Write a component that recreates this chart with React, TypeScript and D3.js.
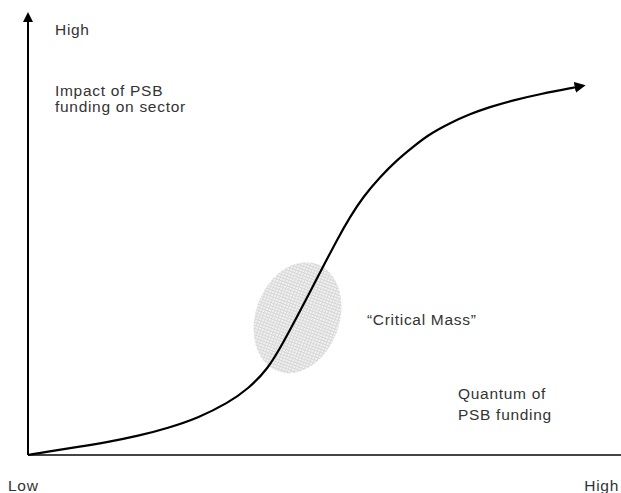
import { useEffect, useRef } from "react";
import * as d3 from "d3";

// S-curve: funding quantum (0-100) vs impact (0-100)
const fundingLevels = [0, 3.37, 8.43, 13.49, 18.55, 23.61, 28.67, 33.73, 37.1, 40.47, 43.0, 45.36, 47.72, 50.08, 52.28, 54.3, 56.49, 59.36, 62.23, 64.92, 67.45, 71.16, 74.54, 77.91, 81.28, 86.34, 92.58];
const impactLevels = [0, 0.79, 1.81, 2.93, 4.29, 6.09, 8.35, 11.74, 14.9, 19.41, 25.28, 31.15, 37.25, 43.34, 48.98, 53.72, 58.24, 62.75, 66.59, 69.53, 72.23, 74.94, 76.98, 78.56, 79.91, 81.49, 83.07];

// critical mass zone (centre and radii in data units)
const criticalCentre = [45.45, 31.0];
const criticalRadii = [7.08, 12.87];

const axisLabels = { yHigh: "High", xLow: "Low", xHigh: "High" };
const yTitle = ["Impact of PSB", "funding on sector"];
const xTitle = ["Quantum of", "PSB funding"];
const zoneLabel = "\u201CCritical Mass\u201D";

const App = () => {
  const svgRef = useRef<SVGSVGElement>(null);

  useEffect(() => {
    const width = 621,
      height = 493;
    const margin = { left: 28, right: 0, top: 12, bottom: 38 };

    const svg = d3.select(svgRef.current);
    svg.selectAll("*").remove();

    const x = d3.scaleLinear().domain([0, 100]).range([margin.left, width - margin.right]);
    const y = d3.scaleLinear().domain([0, 100]).range([height - margin.bottom, margin.top]);

    const defs = svg.append("defs");
    defs
      .append("marker")
      .attr("id", "arrow")
      .attr("viewBox", "0 0 10 10")
      .attr("refX", 2)
      .attr("refY", 5)
      .attr("markerWidth", 5)
      .attr("markerHeight", 5)
      .attr("markerUnits", "strokeWidth")
      .attr("orient", "auto")
      .append("path")
      .attr("d", "M0,0 L10,5 L0,10 Z")
      .attr("fill", "#000");

    const pat = defs
      .append("pattern")
      .attr("id", "dots")
      .attr("patternUnits", "userSpaceOnUse")
      .attr("width", 3)
      .attr("height", 3);
    pat.append("rect").attr("width", 3).attr("height", 3).attr("fill", "#f2f2f2");
    pat.append("rect").attr("width", 3).attr("height", 1).attr("fill", "#d4d4d4");
    pat.append("rect").attr("width", 1).attr("height", 3).attr("fill", "#dadada");

    // critical mass ellipse
    const cx = x(criticalCentre[0]),
      cy = y(criticalCentre[1]);
    svg
      .append("ellipse")
      .attr("cx", cx)
      .attr("cy", cy)
      .attr("rx", x(criticalRadii[0]) - x(0))
      .attr("ry", y(0) - y(criticalRadii[1]))
      .attr("transform", `rotate(20,${cx},${cy})`)
      .attr("fill", "url(#dots)");

    // axes
    svg
      .append("line")
      .attr("x1", x(0))
      .attr("x2", x(100))
      .attr("y1", y(0))
      .attr("y2", y(0))
      .attr("stroke", "#444")
      .attr("stroke-width", 2);

    svg
      .append("line")
      .attr("x1", x(0))
      .attr("x2", x(0))
      .attr("y1", y(0))
      .attr("y2", y(100) + 8)
      .attr("stroke", "#000")
      .attr("stroke-width", 2)
      .attr("marker-end", "url(#arrow)");

    const pts = fundingLevels.map((f, i) => [f, impactLevels[i]] as [number, number]);
    const line = d3
      .line<[number, number]>()
      .x((d) => x(d[0]))
      .y((d) => y(d[1]))
      .curve(d3.curveBasis);

    svg
      .append("path")
      .datum(pts)
      .attr("fill", "none")
      .attr("stroke", "#000")
      .attr("stroke-width", 2.2)
      .attr("marker-end", "url(#arrow)")
      .attr("d", line);

    const txt = (s: string, tx: number, ty: number, anchor = "start") =>
      svg
        .append("text")
        .attr("x", tx)
        .attr("y", ty)
        .attr("text-anchor", anchor)
        .attr("font-family", "'Liberation Sans', Arial, sans-serif")
        .attr("font-size", 15.5)
        .attr("letter-spacing", 0.7)
        .attr("fill", "#333")
        .text(s);

    txt(axisLabels.yHigh, 55, 35);
    yTitle.forEach((s, i) => txt(s, 55, 96 + i * 16));
    txt(zoneLabel, 367, 325);
    xTitle.forEach((s, i) => txt(s, 458, 399 + i * 21));
    txt(axisLabels.xLow, 8, 491);
    txt(axisLabels.xHigh, 619, 491, "end");
  }, []);

  return (
    <svg
      ref={svgRef}
      width={621}
      height={493}
      style={{ position: "absolute", left: 0, top: 0, background: "#fff" }}
    ></svg>
  );
};

export default App;
